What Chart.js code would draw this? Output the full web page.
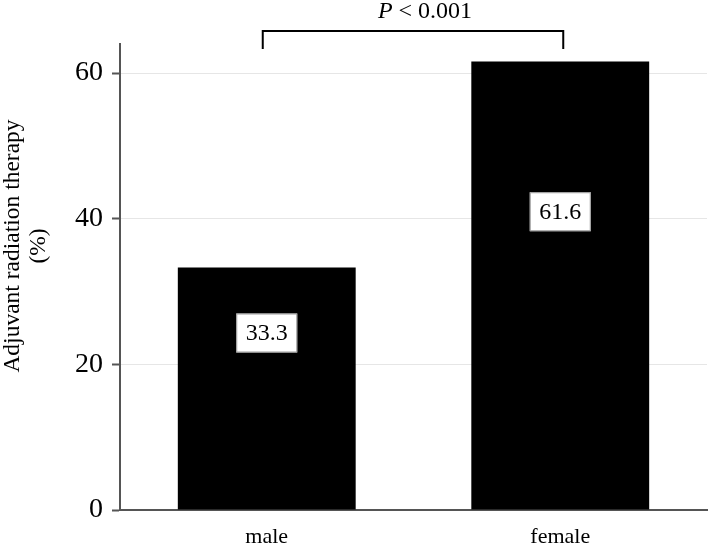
<!DOCTYPE html>
<html>
<head>
<meta charset="utf-8">
<script src="https://cdn.jsdelivr.net/npm/chart.js@4.4.1/dist/chart.umd.min.js"></script>
<style>
  html, body { margin: 0; padding: 0; background: #fff; }
  #chart { display: block; }
</style>
</head>
<body>
<canvas id="chart" width="709" height="545"></canvas>
<script>
/* ── Data ── */
const categories = ['male', 'female'];
const percentValues = [33.3, 61.6];
const yTicks = [0, 20, 40, 60];
const yTitleLines = ['Adjuvant radiation therapy', '(%)'];
const pValueText = '< 0.001';

const SERIF = '"Liberation Serif", "Times New Roman", serif';
const AXIS_GREY = '#555';

/* ── Value boxes, bracket and y title ── */
const annotationPlugin = {
    id: 'annotations',
    afterDatasetsDraw(chart) {
        const { ctx, chartArea } = chart;
        const meta = chart.getDatasetMeta(0);
        const yScale = chart.scales.y;
        // where the white label box sits, as a share of each bar's height
        const boxLevel = [0.73, 0.665];

        ctx.save();
        ctx.font = '24px ' + SERIF;
        ctx.textAlign = 'center';
        ctx.textBaseline = 'middle';
        meta.data.forEach((bar, i) => {
            const text = percentValues[i].toFixed(1);
            const cy = yScale.getPixelForValue(percentValues[i] * boxLevel[i]);
            const w = 61;
            const h = 39;
            ctx.fillStyle = '#fff';
            ctx.fillRect(bar.x - w / 2, cy - h / 2, w, h);
            ctx.strokeStyle = '#999';
            ctx.lineWidth = 1;
            ctx.strokeRect(bar.x - w / 2 + 0.5, cy - h / 2 + 0.5, w - 1, h - 1);
            ctx.fillStyle = '#000';
            ctx.fillText(text, bar.x, cy + 1);
        });

        // significance bracket
        const x1 = meta.data[0].x - 4;
        const x2 = meta.data[1].x + 3;
        const yTop = chartArea.top - 13;
        const yLeg = chartArea.top + 5;
        ctx.strokeStyle = '#000';
        ctx.lineWidth = 2;
        ctx.beginPath();
        ctx.moveTo(x1, yLeg);
        ctx.lineTo(x1, yTop);
        ctx.lineTo(x2, yTop);
        ctx.lineTo(x2, yLeg);
        ctx.stroke();

        // "P < 0.001" with italic P
        ctx.textBaseline = 'alphabetic';
        ctx.textAlign = 'left';
        ctx.font = 'italic 24px ' + SERIF;
        const pW = ctx.measureText('P ').width;
        ctx.font = '24px ' + SERIF;
        const restW = ctx.measureText(pValueText).width;
        let tx = (x1 + x2) / 2 + 12 - (pW + restW) / 2;
        ctx.font = 'italic 24px ' + SERIF;
        ctx.fillText('P ', tx, 18);
        ctx.font = '24px ' + SERIF;
        ctx.fillText(pValueText, tx + pW, 18);

        // y axis title, two lines, rotated
        ctx.translate(0, 246);
        ctx.rotate(-Math.PI / 2);
        ctx.textAlign = 'center';
        ctx.textBaseline = 'middle';
        ctx.font = '23.5px ' + SERIF;
        ctx.fillText(yTitleLines[0], 0, 13);
        ctx.fillText(yTitleLines[1], 0, 39);
        ctx.restore();
    }
};

new Chart(document.getElementById('chart'), {
    type: 'bar',
    data: {
        labels: categories,
        datasets: [{
            data: percentValues,
            backgroundColor: '#000',
            borderWidth: 0,
            barPercentage: 0.606,
            categoryPercentage: 1
        }]
    },
    options: {
        responsive: false,
        animation: false,
        layout: { padding: { top: 44, right: 2, left: 0, bottom: 0 } },
        plugins: {
            legend: { display: false },
            tooltip: { enabled: false }
        },
        scales: {
            x: {
                grid: { display: false, drawTicks: false },
                border: { display: true, color: AXIS_GREY, width: 2 },
                ticks: { color: '#000', font: { family: SERIF, size: 22 }, padding: 14 },
                afterFit: (scale) => { scale.height = 35; }
            },
            y: {
                min: 0,
                max: 64,
                afterBuildTicks: (scale) => {
                    scale.ticks = yTicks.map(v => ({ value: v }));
                },
                grid: { color: '#e6e6e6', lineWidth: 1, tickColor: AXIS_GREY, tickLength: 8, tickWidth: 2 },
                border: { display: true, color: AXIS_GREY, width: 2 },
                ticks: { color: '#000', font: { family: SERIF, size: 28 }, padding: 9 },
                afterFit: (scale) => { scale.width = 120; }
            }
        }
    },
    plugins: [annotationPlugin]
});
</script>
</body>
</html>
